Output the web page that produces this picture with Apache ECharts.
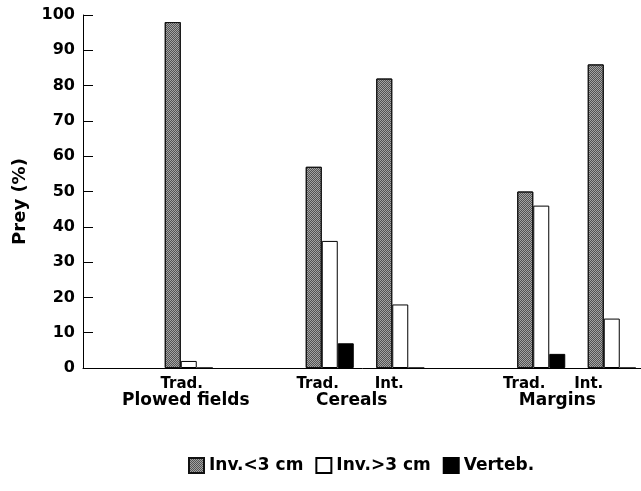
<!DOCTYPE html>
<html>
<head>
<meta charset="utf-8">
<script src="https://cdn.jsdelivr.net/npm/echarts@6/dist/echarts.min.js"></script>
<style>
  html, body { margin: 0; padding: 0; background: #fff; }
  #chart { width: 641px; height: 491px; }
</style>
</head>
<body>
<div id="chart"></div>
<script>
// ---- data ----
const slotLabels = ['', 'Trad.', '', 'Trad.', 'Int.', '', 'Trad.', 'Int.'];
const groupNames = ['', 'Plowed fields', '', 'Cereals', '', '', 'Margins', ''];
const seriesNames = ['Inv.<3 cm', 'Inv.>3 cm', 'Verteb.'];
const invSmall = ['-', 98, '-', 57, 82, '-', 50, 86];
const invLarge = ['-', 2, '-', 36, 18, '-', 46, 14];
const verteb   = ['-', 0, '-', 7, 0, '-', 4, 0];
const yTicks = [0, 10, 20, 30, 40, 50, 60, 70, 80, 90, 100];

// ---- layout (label nudges, px) ----
const slotShift  = [0, -7, 0, -12, -11, 0, -17, -23];
const groupShift = [0, -3, 0, 22, 0, 0, 16, 0];

const FONT = 'DejaVu Sans';
function pad(d) { return d < 0 ? [0, -2 * d, 0, 0] : [0, 0, 0, 2 * d]; }
const rich = {};
slotLabels.forEach((s, i) => {
  rich['s' + i] = { fontFamily: FONT, fontWeight: 'bold', fontSize: 15, color: '#000',
                    lineHeight: 15, align: 'center', padding: pad(slotShift[i]) };
  rich['g' + i] = { fontFamily: FONT, fontWeight: 'bold', fontSize: 17, color: '#000',
                    lineHeight: 17, align: 'center', padding: pad(groupShift[i]) };
});

const chart = echarts.init(document.getElementById('chart'), null, { renderer: 'canvas' });
const gray = {
  color: '#a4a4a4', borderColor: '#111', borderWidth: 1,
  decal: { symbol: 'rect', symbolSize: 1, color: 'rgba(30,30,30,0.6)',
           dashArrayX: [[1, 1], [0, 1, 1, 0]], dashArrayY: [1, 0] }
};
chart.setOption({
  animation: false,
  backgroundColor: '#fff',
  grid: { left: 83, top: 15, width: 564, height: 353, containLabel: false, outerBoundsMode: 'none' },
  legend: {
    left: 188, top: 457, padding: 0, itemWidth: 15, itemHeight: 15, itemGap: 12, icon: 'rect',
    textStyle: { fontFamily: FONT, fontWeight: 'bold', fontSize: 17, color: '#000' },
    data: seriesNames
  },
  xAxis: {
    type: 'category',
    data: slotLabels.map((_, i) => 'c' + i),
    axisLine: { lineStyle: { color: '#000', width: 1 } },
    axisTick: { show: false },
    axisLabel: {
      interval: 0, margin: 9,
      formatter: (v, i) => {
        const lines = [];
        if (slotLabels[i]) lines.push('{s' + i + '|' + slotLabels[i] + '}');
        if (groupNames[i]) lines.push('{g' + i + '|' + groupNames[i] + '}');
        return lines.join('\n');
      },
      rich: rich
    },
    splitLine: { show: false }
  },
  yAxis: {
    type: 'value', min: yTicks[0], max: yTicks[yTicks.length - 1], interval: 10,
    name: 'Prey (%)', nameLocation: 'middle', nameGap: 54,
    nameTextStyle: { fontFamily: FONT, fontWeight: 'bold', fontSize: 18, color: '#000', padding: [0, 20, 0, 0] },
    axisLine: { show: true, lineStyle: { color: '#000', width: 1 } },
    axisTick: { show: true, inside: true, length: 10, lineStyle: { color: '#000' } },
    axisLabel: { margin: 8, fontFamily: FONT, fontWeight: 'bold', fontSize: 16, color: '#000' },
    splitLine: { show: false }
  },
  series: [
    { name: seriesNames[0], type: 'bar', data: invSmall, barWidth: 16, barGap: '0%',
      itemStyle: gray },
    { name: seriesNames[1], type: 'bar', data: invLarge, barWidth: 16, barGap: '0%',
      itemStyle: { color: '#fff', borderColor: '#000', borderWidth: 1 } },
    { name: seriesNames[2], type: 'bar', data: verteb, barWidth: 16, barGap: '0%',
      itemStyle: { color: '#000', borderColor: '#000', borderWidth: 1 } }
  ]
});
</script>
</body>
</html>
